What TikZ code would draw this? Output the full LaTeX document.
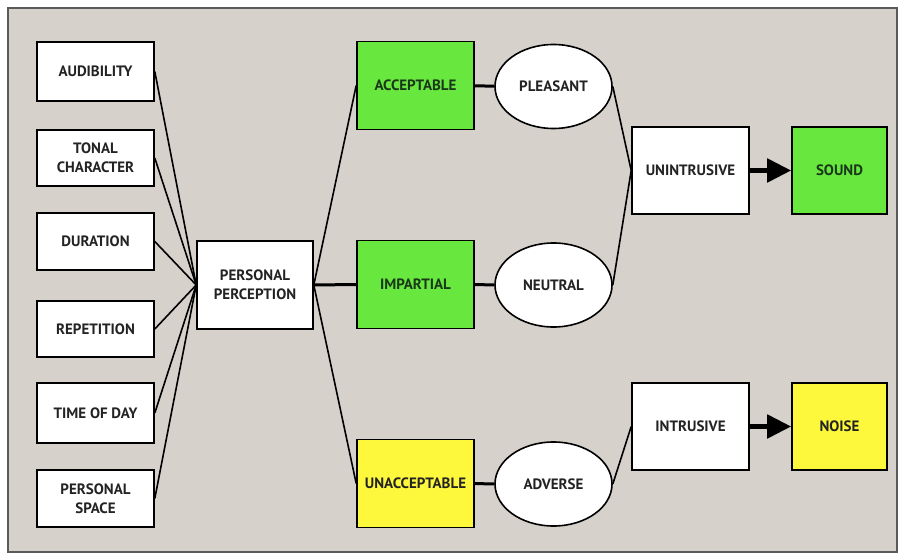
\documentclass[tikz,border=0pt]{standalone}
\usepackage{fontspec}
\setmainfont{PT Sans}
\usepackage{xcolor}
\usepackage{tikz}
\usetikzlibrary{arrows.meta,shapes.geometric}
\definecolor{spbg}{RGB}{214,209,203}
\definecolor{spframe}{RGB}{90,90,90}
\definecolor{spgreen}{RGB}{104,232,62}
\definecolor{spyellow}{RGB}{253,248,60}
\definecolor{spink}{RGB}{35,35,35}
\definecolor{spgreenink}{RGB}{25,55,25}

\begin{document}
\begin{tikzpicture}[
  x=1pt,y=-1pt,
  font=\fontsize{15}{19}\selectfont\bfseries,
  box/.style={draw,line width=1.6pt,fill=white,text=spink,align=center,inner sep=0pt,minimum width=117pt},
  factor/.style={box,minimum height=58pt},
  judge/.style={box,minimum height=88pt},
  feel/.style={box,ellipse,minimum height=84pt},
  link/.style={line width=1.6pt},
  bond/.style={line width=3pt},
  result/.style={-{Triangle[length=24pt,width=23pt]},line width=5pt}
]
  \useasboundingbox (0,0) rectangle (902,556);
  \draw[spframe,line width=1.2pt,fill=spbg] (8,8) rectangle (897,552);

  % factors
  \node[factor,minimum height=59pt] (audib) at (95.5,71.5) {AUDIBILITY};
  \node[factor,minimum height=56pt] (tonal) at (95.5,158) {TONAL\\CHARACTER};
  \node[factor,minimum height=57pt] (durat) at (95.5,241.5) {DURATION};
  \node[factor,minimum height=56pt] (repet) at (95.5,329) {REPETITION};
  \node[factor,minimum height=60pt] (tday) at (95.5,413) {TIME OF DAY};
  \node[factor,minimum height=57pt] (pspace) at (95.5,498.5) {PERSONAL\\SPACE};

  \node[judge,minimum width=116pt] (percep) at (255,285) {PERSONAL\\PERCEPTION};

  % judgements
  \node[judge,fill=spgreen,text=spgreenink] (accept) at (415.5,85.5) {ACCEPTABLE};
  \node[judge,fill=spgreen,text=spgreenink] (impart) at (415.5,284.5) {IMPARTIAL};
  \node[judge,fill=spyellow] (unacc) at (415.5,483.5) {UNACCEPTABLE};

  \node[feel] (pleas) at (553.5,86.5) {PLEASANT};
  \node[feel] (neutr) at (553.5,285) {NEUTRAL};
  \node[feel] (advers) at (553.5,484) {ADVERSE};

  \node[judge,minimum height=87pt] (unintr) at (690.5,170.5) {UNINTRUSIVE};
  \node[judge,minimum height=87pt,minimum width=95pt,fill=spgreen,text=spgreenink] (sound) at (839.5,170.5) {SOUND};
  \node[judge,minimum height=87pt] (intr) at (690.5,426.5) {INTRUSIVE};
  \node[judge,minimum height=87pt,minimum width=95pt,fill=spyellow] (noise) at (839.5,426.5) {NOISE};

  \foreach \f in {audib,tonal,durat,repet,tday,pspace}
    \draw[link] (\f.east) -- (percep.west);

  \draw[link] (percep.east) -- (accept.west);
  \draw[bond] (percep.east) -- (impart.west);
  \draw[link] (percep.east) -- (unacc.west);

  \draw[bond] (accept) -- (pleas);
  \draw[bond] (impart) -- (neutr);
  \draw[bond] (unacc) -- (advers);

  \draw[link] (pleas.east) -- (unintr.west);
  \draw[link] (neutr.east) -- (unintr.west);
  \draw[link] (advers.east) -- (intr.west);

  \draw[result] (unintr) -- (sound);
  \draw[result] (intr) -- (noise);
\end{tikzpicture}
\end{document}
